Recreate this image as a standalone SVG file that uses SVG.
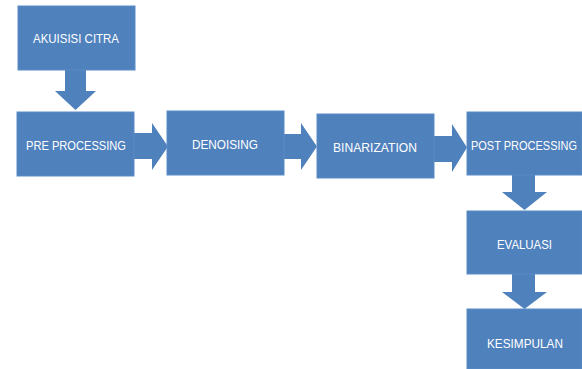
<svg xmlns="http://www.w3.org/2000/svg" width="582" height="369" viewBox="0 0 582 369">
<style>
.box{fill:#4f81bd;stroke:#5b8cc6;stroke-width:1}
.arr{fill:#4f81bd}
.t{font-family:"Liberation Sans",Arial,sans-serif;font-size:13px;fill:#ffffff;text-anchor:middle}
</style>
<rect width="582" height="369" fill="#ffffff"/>
<g id="connectors">
<polygon class="arr" points="65,70 86,70 86,91 96,91 75.5,110 55,91 65,91"/>
<polygon class="arr" points="134,133 152,133 152,123 168,146.5 152,170 152,159 134,159"/>
<polygon class="arr" points="284,134 301,134 301,123 317,146.5 301,170 301,159 284,159"/>
<polygon class="arr" points="434,136 452,136 452,124 467,147.5 452,172 452,162 434,162"/>
<polygon class="arr" points="512,175 535,175 535,192 547,192 524.5,210 502,192 512,192"/>
<polygon class="arr" points="512,274 535,274 535,292 547,292 524.5,309 502,292 512,292"/>
</g>
<g id="akuisisi"><rect class="box" x="18" y="6" width="117" height="64"/><text class="t" x="76" y="43" textLength="86" lengthAdjust="spacingAndGlyphs">AKUISISI CITRA</text></g>
<g id="pre"><rect class="box" x="17" y="112" width="117" height="64"/><text class="t" x="76" y="150" textLength="100" lengthAdjust="spacingAndGlyphs">PRE PROCESSING</text></g>
<g id="denoising"><rect class="box" x="167" y="111" width="117" height="64"/><text class="t" x="225" y="149" textLength="66" lengthAdjust="spacingAndGlyphs">DENOISING</text></g>
<g id="binarization"><rect class="box" x="317" y="114" width="117" height="64"/><text class="t" x="375" y="152" textLength="84" lengthAdjust="spacingAndGlyphs">BINARIZATION</text></g>
<g id="post"><rect class="box" x="467" y="112" width="115" height="63"/><text class="t" x="524" y="150" textLength="106" lengthAdjust="spacingAndGlyphs">POST PROCESSING</text></g>
<g id="evaluasi"><rect class="box" x="467" y="211" width="115" height="63"/><text class="t" x="524.5" y="249" textLength="55" lengthAdjust="spacingAndGlyphs">EVALUASI</text></g>
<g id="kesimpulan"><rect class="box" x="467" y="309" width="115" height="60"/><text class="t" x="525" y="348" textLength="76" lengthAdjust="spacingAndGlyphs">KESIMPULAN</text></g>
</svg>
